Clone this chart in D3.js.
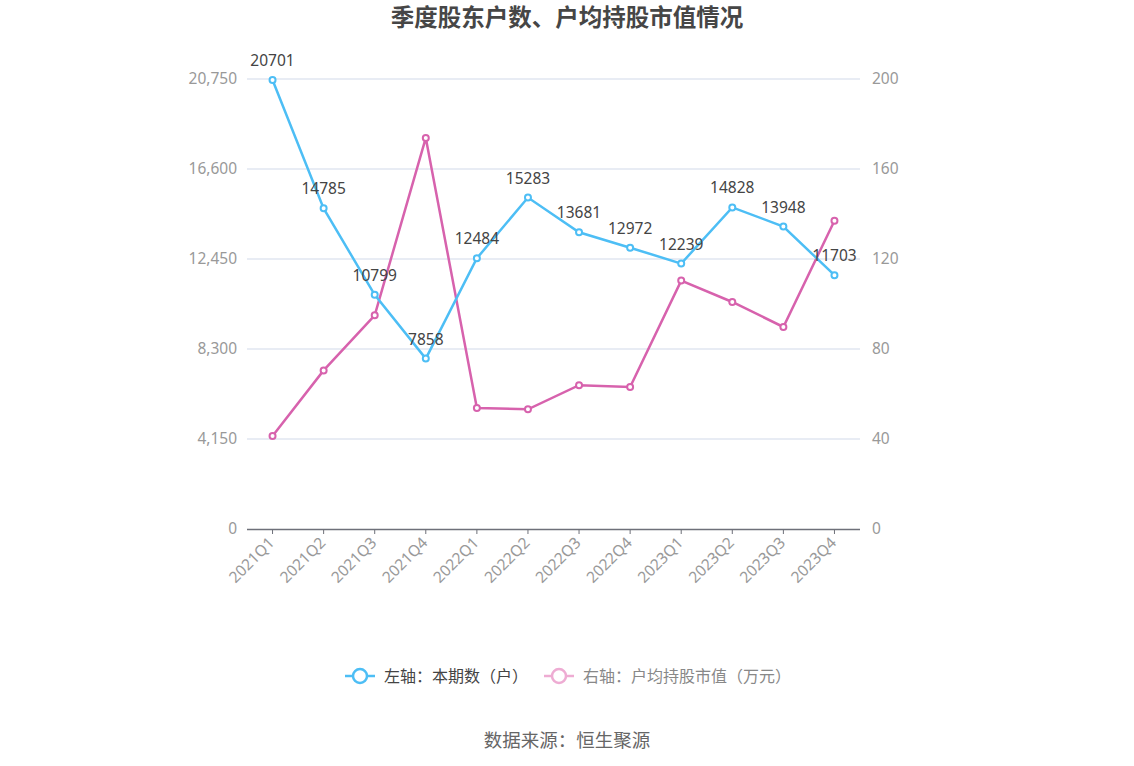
<!DOCTYPE html>
<html><head><meta charset="utf-8">
<script src="https://cdn.jsdelivr.net/npm/d3@7"></script>
<style>body{margin:0;background:#fff}svg{display:block;font-family:"Noto Sans","Noto Sans CJK SC",sans-serif}</style>
</head><body><svg id="c" width="1134" height="766"></svg>
<script>
const categories=["2021Q1","2021Q2","2021Q3","2021Q4","2022Q1","2022Q2","2022Q3","2022Q4","2023Q1","2023Q2","2023Q3","2023Q4"];
const holders=[20701,14785,10799,7858,12484,15283,13681,12972,12239,14828,13948,11703];
const avgValue=[41.3,70.5,95.0,173.8,53.8,53.2,63.9,63.1,110.4,100.9,89.8,137.0];
const leftTicks=[0,4150,8300,12450,16600,20750];
const rightTicks=[0,40,80,120,160,200];
const title="季度股东户数、户均持股市值情况";
const legendNames=["左轴：本期数（户）","右轴：户均持股市值（万元）"];
const source="数据来源：恒生聚源";

const blue="#4dbef5", pink="#d762ad";
const svg=d3.select("#c");
const L=247,R=860,T=79,B=529;
const x=d3.scaleBand().domain(categories).range([L,R]);
const yL=d3.scaleLinear().domain([0,20750]).range([B,T]);
const yR=d3.scaleLinear().domain([0,200]).range([B,T]);
const cx=d=>x(d)+x.bandwidth()/2;

svg.append("text").attr("x",567).attr("y",26).attr("text-anchor","middle")
  .attr("font-family","Noto Sans CJK SC").attr("font-size",23.5).attr("font-weight","bold").attr("fill","#464646").text(title);

// grid
svg.append("g").selectAll("line").data(leftTicks.slice(1)).join("line")
  .attr("x1",L).attr("x2",R).attr("y1",d=>yL(d)).attr("y2",d=>yL(d))
  .attr("stroke","#e0e6f1").attr("stroke-width",1.5);

// axis labels
svg.append("g").selectAll("text").data(leftTicks).join("text")
  .attr("x",237).attr("y",d=>yL(d)).attr("dy","0.35em").attr("text-anchor","end")
  .attr("font-size",15.5).attr("fill","#999").text(d=>d3.format(",")(d));
svg.append("g").selectAll("text").data(rightTicks).join("text")
  .attr("x",872).attr("y",d=>yR(d)).attr("dy","0.35em").attr("text-anchor","start")
  .attr("font-size",15.5).attr("fill","#999").text(d=>d);

// x axis
const xa=svg.append("g");
xa.append("line").attr("x1",L).attr("x2",R).attr("y1",B+0.5).attr("y2",B+0.5).attr("stroke","#6e7079").attr("stroke-width",1.5);
xa.selectAll("line.t").data(categories).join("line").attr("class","t")
  .attr("x1",d=>cx(d)).attr("x2",d=>cx(d)).attr("y1",B).attr("y2",B+5).attr("stroke","#6e7079");
xa.selectAll("text").data(categories).join("text")
  .attr("transform",d=>`translate(${cx(d)-1},${B+11}) rotate(-45)`)
  .attr("text-anchor","end").attr("dy","0.35em").attr("font-size",15.5).attr("fill","#999").text(d=>d);

function series(vals,y,color,labels){
  const g=svg.append("g");
  g.append("path").datum(vals).attr("fill","none").attr("stroke",color).attr("stroke-width",2.5)
    .attr("d",d3.line().x((d,i)=>cx(categories[i])).y(d=>y(d)));
  g.selectAll("circle").data(vals).join("circle").attr("cx",(d,i)=>cx(categories[i])).attr("cy",d=>y(d))
    .attr("r",3).attr("fill","#fff").attr("stroke",color).attr("stroke-width",2);
  if(labels){
    g.selectAll("text").data(vals).join("text").attr("x",(d,i)=>cx(categories[i])).attr("y",d=>y(d)-14)
      .attr("text-anchor","middle").attr("font-size",15.5).attr("fill","#444").text(d=>d);
  }
}
series(avgValue,yR,pink,false);
series(holders,yL,blue,true);

// legend
const lg=svg.append("g").attr("font-family","Noto Sans CJK SC");
const items=[{x:345,c:blue,t:legendNames[0],tc:"#444"},{x:544,c:"#eeacd3",t:legendNames[1],tc:"#888"}];
items.forEach(it=>{
  lg.append("line").attr("x1",it.x).attr("x2",it.x+30).attr("y1",676).attr("y2",676).attr("stroke",it.c).attr("stroke-width",2.5);
  lg.append("circle").attr("cx",it.x+15).attr("cy",676).attr("r",7).attr("fill","#fff").attr("stroke",it.c).attr("stroke-width",2.5);
  lg.append("text").attr("x",it.x+39).attr("y",676).attr("dy","0.35em").attr("font-size",16).attr("fill",it.tc).text(it.t);
});

svg.append("text").attr("x",567).attr("y",741).attr("dy","0.35em").attr("text-anchor","middle")
  .attr("font-family","Noto Sans CJK SC").attr("font-size",18.5).attr("fill","#666").text(source);
</script></body></html>
